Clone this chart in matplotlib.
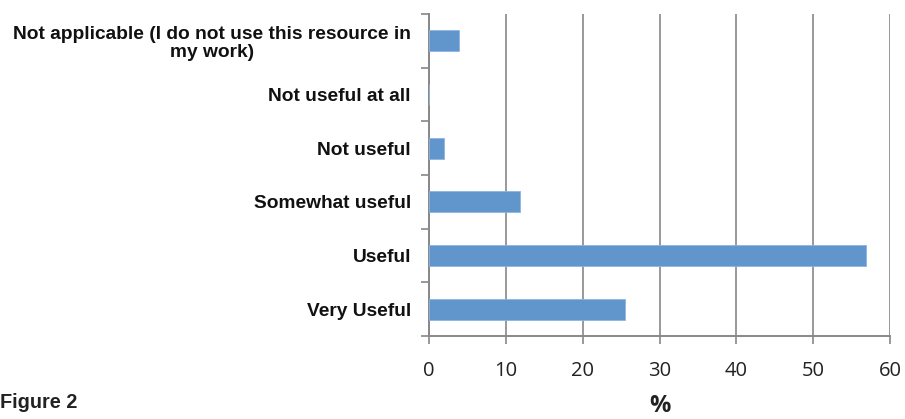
import matplotlib
matplotlib.use("Agg")
import matplotlib.pyplot as plt
import numpy as np

categories = ["Very Useful", "Useful", "Somewhat useful", "Not useful",
              "Not useful at all",
              "Not applicable (I do not use this resource in\nmy work)"]
values = [25.5, 56.9, 11.8, 2.0, 0.0, 3.9]
xticks = [0, 10, 20, 30, 40, 50, 60]

fig = plt.figure(figsize=(9.05, 4.19), dpi=100)
ax = fig.add_axes([429/905, 1-336/419, (890-429)/905, (336-14)/419])

y = np.arange(len(categories))
ax.barh(y, values, height=0.39, color="#6096CB", edgecolor="#8DB4E0", linewidth=0.6, zorder=3)
ax.set_ylim(-0.5, len(categories)-0.5)
ax.set_xlim(0, 60)
ax.set_xticks(xticks)
ax.set_xticklabels([str(t) for t in xticks], fontsize=14.5, family="Open Sans", color="#222222")
ax.set_yticks(y)
ax.set_yticklabels(categories, fontsize=13.8, fontweight="bold", family="Liberation Sans",
                   multialignment="center", linespacing=1.1, color="#111111")
ax.set_yticks(np.arange(-0.5, len(categories), 1.0), minor=True)
ax.tick_params(axis="y", which="major", length=0, pad=13)
ax.tick_params(axis="y", which="minor", length=6, color="#888888", width=1.2)
ax.tick_params(axis="x", which="major", length=6, color="#888888", width=1.2, pad=12)
ax.grid(axis="x", color="#999999", linewidth=1.4, zorder=0)
for s in ["top", "right"]:
    ax.spines[s].set_visible(False)
for s in ["left", "bottom"]:
    ax.spines[s].set_color("#888888")
    ax.spines[s].set_linewidth(1.4)

fig.text(660/905, 1-406/419, "%", ha="center", va="center", fontsize=17, fontweight="bold",
         family="Open Sans", color="#222222")
fig.text(0/905, 1-402/419, "Figure 2", ha="left", va="center", fontsize=14.3, fontweight="bold",
         family="Liberation Sans", color="#222222")

fig.savefig("out.png", dpi=100)
